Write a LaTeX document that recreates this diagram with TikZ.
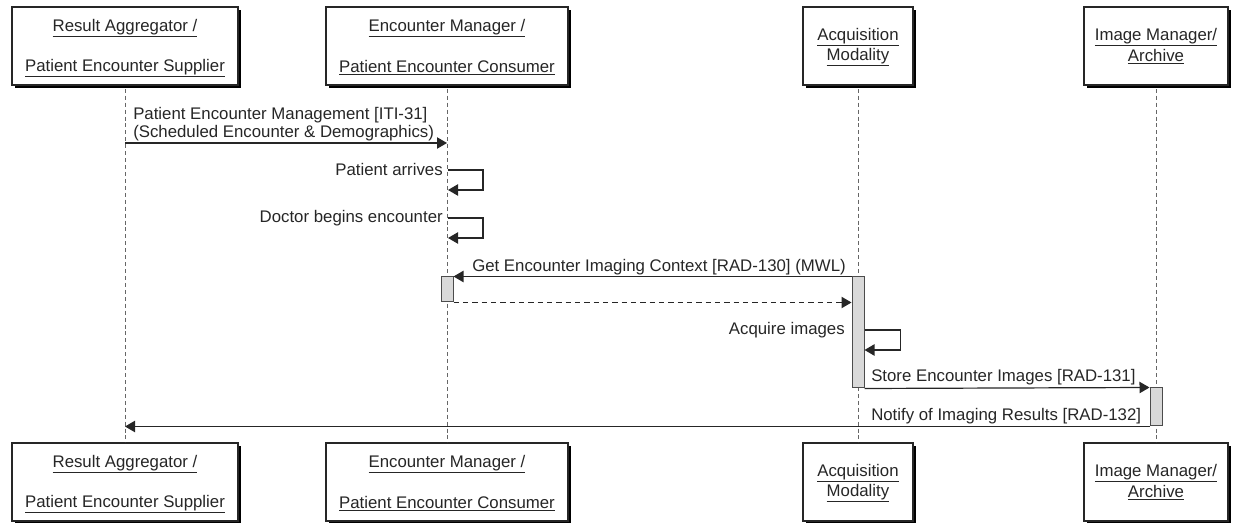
\documentclass[tikz,border=0pt]{standalone}
\usepackage{fontspec}
\setmainfont{Liberation Sans}
\usetikzlibrary{arrows.meta,shadows}
\begin{document}
\begin{tikzpicture}[x=0.75pt,y=-0.75pt,
  every node/.style={font=\fontsize{12.6}{13.5}\selectfont, text=black!85, inner sep=0pt},
  actor/.style={draw=black!85, line width=0.9pt, fill=white, minimum height=58.5pt,
    drop shadow={shadow xshift=2.4pt, shadow yshift=-2.4pt, fill=black, opacity=1}},
  lbl/.style={anchor=center},
  life/.style={draw=black!60, line width=0.75pt, dash pattern=on 3pt off 2.2pt},
  act/.style={draw=black!70, fill=black!15, line width=0.75pt, minimum width=9pt},
  msg/.style={draw=black!85, line width=0.9pt, -{Triangle[length=7.5pt,width=8.5pt]}},
  ret/.style={msg, dash pattern=on 4pt off 3pt}
]
\useasboundingbox (0,0) rectangle (1233,523);

% top actor boxes
\node[actor, minimum width=169.5pt] (t1) at (125,46) {};
\node[actor, minimum width=181.5pt] (t2) at (447,46) {};
\node[actor, minimum width=82.5pt]  (t3) at (858,46) {};
\node[actor, minimum width=108pt]   (t4) at (1156,46) {};
% bottom actor boxes
\node[actor, minimum width=169.5pt] (b1) at (125,482) {};
\node[actor, minimum width=181.5pt] (b2) at (447,482) {};
\node[actor, minimum width=82.5pt]  (b3) at (858,482) {};
\node[actor, minimum width=108pt]   (b4) at (1156,482) {};

% labels
\node[lbl] (t1a) at (125,28) {\underline{Result Aggregator /}};
\node[lbl] (t1b) at (125,68) {\underline{Patient Encounter Supplier}};
\node[lbl] (t2a) at (447,28) {\underline{Encounter Manager /}};
\node[lbl] (t2b) at (447,68) {\underline{Patient Encounter Consumer}};
\node[lbl] (t3a) at (858,37) {\underline{Acquisition}};
\node[lbl] (t3b) at (858,57) {\underline{Modality}};
\node[lbl] (t4a) at (1156,37) {\underline{Image Manager/}};
\node[lbl] (t4b) at (1156,57) {\underline{Archive}};

\node[lbl] (b1a) at (125,464) {\underline{Result Aggregator /}};
\node[lbl] (b1b) at (125,504) {\underline{Patient Encounter Supplier}};
\node[lbl] (b2a) at (447,464) {\underline{Encounter Manager /}};
\node[lbl] (b2b) at (447,504) {\underline{Patient Encounter Consumer}};
\node[lbl] (b3a) at (858,473) {\underline{Acquisition}};
\node[lbl] (b3b) at (858,493) {\underline{Modality}};
\node[lbl] (b4a) at (1156,473) {\underline{Image Manager/}};
\node[lbl] (b4b) at (1156,493) {\underline{Archive}};

% lifelines
\draw[life] ([yshift=-2.4pt]t1.south) -- (b1.north);
\draw[life] ([yshift=-2.4pt]t2.south) -- (b2.north);
\draw[life] ([yshift=-2.4pt]t3.south) -- (b3.north);
\draw[life] ([yshift=-2.4pt]t4.south) -- (b4.north);

% activation bars
\node[act, minimum height=18.75pt] (ea) at (447,289.5) {};
\node[act, minimum height=83.25pt] (aa) at (858,332.5) {};
\node[act, minimum height=28.5pt]  (ia) at (1156,407) {};

% message 1
\coordinate (m1s) at (125,143);
\coordinate (m1e) at (447,143);
\draw[msg] (m1s) -- (m1e);
\node[anchor=west, align=left] (m1t) at (133,124) {Patient Encounter Management [ITI-31]\\(Scheduled Encounter \& Demographics)};

% self messages on Encounter Manager
\coordinate (pa) at (448,170);
\draw[msg] (pa) -- ++(35,0) -- ++(0,20) -- ++(-35,0);
\node[anchor=east] (pat) at (443,170) {Patient arrives};
\coordinate (db) at (448,218);
\draw[msg] (db) -- ++(35,0) -- ++(0,20) -- ++(-35,0);
\node[anchor=east] (dbt) at (443,218) {Doctor begins encounter};

% Get Encounter Imaging Context
\draw[msg] (aa.north west) -- (ea.north east);
\node[anchor=east] (gt) at (846,267) {Get Encounter Imaging Context [RAD-130] (MWL)};
\draw[ret] (ea.south east) -- (aa.west |- ea.south east);

% Acquire images
\coordinate (ai) at (aa.east |- 0,330);
\draw[msg] (ai) -- ++(36,0) -- ++(0,20) -- ++(-36,0);
\node[anchor=east] (ait) at (845,330) {Acquire images};

% Store
\draw[msg] (aa.south east) -- (ia.north west);
\node[anchor=west] (st) at (871,377) {Store Encounter Images [RAD-131]};

% Notify
\coordinate (ne) at (b1.north |- ia.south west);
\draw[msg] (ia.south west) -- (ne);
\node[anchor=west] (nt) at (871,416) {Notify of Imaging Results [RAD-132]};
\end{tikzpicture}
\end{document}
